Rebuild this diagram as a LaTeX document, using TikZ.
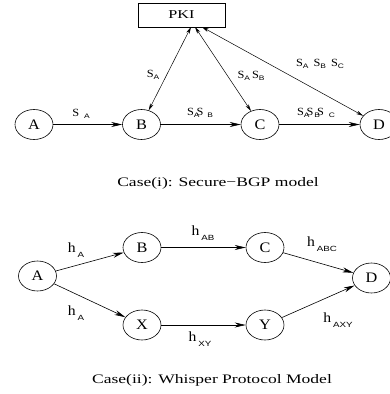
\documentclass[tikz,border=0pt]{standalone}
\usepackage{fontspec}
\setmainfont{Liberation Serif}[FakeStretch=1.35]
\newfontfamily\nodefont{Liberation Serif}[FakeStretch=1.12]
\newfontfamily\subfont{Liberation Sans}[FakeStretch=1.3]
\usetikzlibrary{shapes.geometric,arrows.meta}
\newcommand\ssub[1]{\raisebox{-2pt}{\subfont\fontsize{6.5}{6.5}\selectfont #1}}
\newcommand\hsub[1]{\raisebox{-4.5pt}{\subfont\fontsize{7.5}{7.5}\selectfont #1}}
\begin{document}
\begin{tikzpicture}[x=1pt,y=-1pt,
  nd/.style={draw,ellipse,line width=0.6pt,minimum width=38pt,minimum height=30pt,inner sep=0pt,font=\nodefont\fontsize{14.5}{14.5}\selectfont},
  slbl/.style={inner sep=0pt,font=\nodefont\fontsize{11}{11}\selectfont},
  hlbl/.style={inner sep=0pt,font=\nodefont\fontsize{14}{14}\selectfont},
  captext/.style={inner sep=0pt,font=\fontsize{13}{13}\selectfont},
  arr/.style={line width=0.6pt,-{Stealth[length=11pt,width=5pt]}},
  darr/.style={line width=0.5pt,{Stealth[length=7pt,width=3.5pt]}-{Stealth[length=7pt,width=3.5pt]}}]
\useasboundingbox (0,0) rectangle (390,394);
\clip (0,0) rectangle (390,394);
% ---- Case (i)
\node[draw,line width=0.6pt,minimum width=87pt,minimum height=24pt,inner sep=0pt,font=\fontsize{12}{12}\selectfont] (pki) at (181.5,15) {PKI};
\node[nd] (a1) at (34,124.5) {A};
\node[nd] (b1) at (141.5,124.5) {B};
\node[nd] (c1) at (260,124.5) {C};
\node[nd] (d1) at (379,124.5) {D};
\coordinate (pb) at (191,27);
\coordinate (pc) at (195,27);
\coordinate (pd) at (202,27);
\draw[arr] (a1) -- (b1);
\draw[arr] (b1) -- (c1);
\draw[arr] (c1) -- (d1);
\draw[darr] (pb) -- (b1);
\draw[darr] (pc) -- (c1);
\draw[darr] (pd) -- (d1);
\node[slbl] (l1) at (81,114) {S\hspace{5pt}\ssub{A}};
\node[slbl] (l2) at (200,113) {S\ssub{A}\kern-3pt S\hspace{4pt}\ssub{B}};
\node[slbl] (l3) at (316,113) {S\ssub{A}\kern-3pt S\hspace{1pt}\ssub{B}\kern-3pt S\hspace{5pt}\ssub{C}};
\node[slbl] (p1) at (153,75) {S\ssub{A}};
\node[slbl] (p2) at (251,76) {S\ssub{A}\hspace{2pt}S\ssub{B}};
\node[slbl] (p3) at (320,64) {S\ssub{A}\hspace{5pt}S\ssub{B}\hspace{5pt}S\ssub{C}};
\node[captext] (cap1) at (218,183) {Case(i): Secure\textminus BGP model};
% ---- Case (ii)
\node[nd] (a2) at (37.5,276) {A};
\node[nd] (b2) at (142,247.5) {B};
\node[nd] (c2) at (265,247.5) {C};
\node[nd] (d2) at (371.5,278) {D};
\node[nd] (x2) at (142,325) {X};
\node[nd] (y2) at (265,325) {Y};
\draw[arr] (a2) -- (b2);
\draw[arr] (a2) -- (x2);
\draw[arr] (b2) -- (c2);
\draw[arr] (x2) -- (y2);
\draw[arr] (c2) -- (d2);
\draw[arr] (y2) -- (d2);
\node[hlbl] (h1) at (76,250) {h\hspace{2pt}\hsub{A}};
\node[hlbl] (h2) at (76,313) {h\hspace{2pt}\hsub{A}};
\node[hlbl] (h3) at (203,233) {h\hspace{2pt}\hsub{AB}};
\node[hlbl] (h4) at (322,244) {h\hspace{2pt}\hsub{ABC}};
\node[hlbl] (h5) at (200,339) {h\hspace{2pt}\hsub{XY}};
\node[hlbl] (h6) at (338,320) {h\hspace{2pt}\hsub{AXY}};
\node[captext] (cap2) at (212,380) {Case(ii): Whisper Protocol Model};
\end{tikzpicture}
\end{document}
